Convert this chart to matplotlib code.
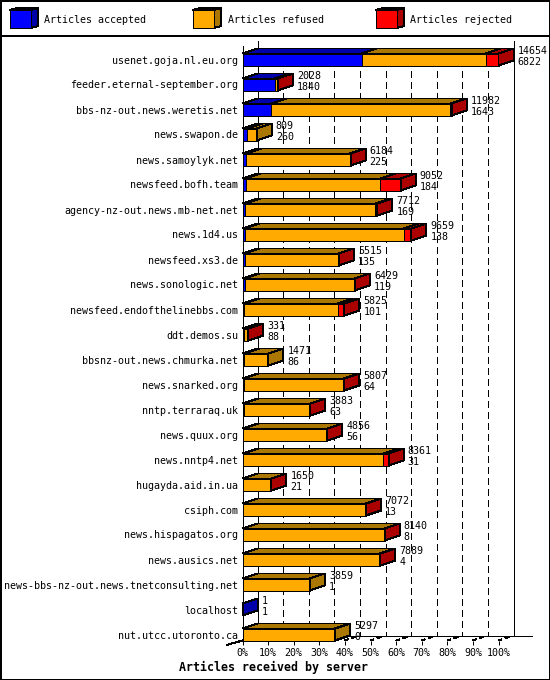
import matplotlib
matplotlib.use('Agg')
import matplotlib.pyplot as plt
from matplotlib.patches import Polygon, Rectangle

hosts = ['usenet.goja.nl.eu.org', 'feeder.eternal-september.org', 'bbs-nz-out.news.weretis.net',
         'news.swapon.de', 'news.samoylyk.net', 'newsfeed.bofh.team', 'agency-nz-out.news.mb-net.net',
         'news.1d4.us', 'newsfeed.xs3.de', 'news.sonologic.net', 'newsfeed.endofthelinebbs.com',
         'ddt.demos.su', 'bbsnz-out.news.chmurka.net', 'news.snarked.org', 'nntp.terraraq.uk',
         'news.quux.org', 'news.nntp4.net', 'hugayda.aid.in.ua', 'csiph.com', 'news.hispagatos.org',
         'news.ausics.net', 'news-bbs-nz-out.news.tnetconsulting.net', 'localhost', 'nut.utcc.utoronto.ca']
offered = [14654, 2028, 11982, 809, 6184, 9052, 7712, 9659, 5515, 6429, 5825, 331,
           1471, 5807, 3883, 4856, 8361, 1650, 7072, 8140, 7889, 3859, 1, 5297]
accepted = [6822, 1840, 1643, 260, 225, 184, 169, 138, 135, 119, 101, 88,
            86, 64, 63, 56, 31, 21, 13, 8, 4, 1, 1, 0]
# rejected is read off the bar widths, the chart prints no number for it
rejected = [722, 18, 90, 0, 40, 1165, 100, 420, 25, 20, 360, 50,
            0, 15, 12, 12, 290, 10, 40, 25, 15, 0, 0, 0]
legend_names = ['Articles accepted', 'Articles refused', 'Articles rejected']
colors = ['#0000FF', '#FFAA00', '#FF0000']
darks = ['#0000AA', '#AA7700', '#AA0000']
pct_ticks = [0, 10, 20, 30, 40, 50, 60, 70, 80, 90, 100]

plt.rcParams['lines.antialiased'] = False
plt.rcParams['patch.antialiased'] = False
plt.rcParams['font.family'] = 'DejaVu Sans Mono'
plt.rcParams['font.size'] = 7.2

W, H = 550, 680
LW = 0.72
fig = plt.figure(figsize=(W / 100, H / 100), dpi=100)

# background layer in pixels: frame and legend
bg = fig.add_axes([0, 0, 1, 1])
bg.set_xlim(0, W)
bg.set_ylim(H, 0)
bg.axis('off')
bg.add_patch(Rectangle((0.5, 0.5), W - 1, H - 1, fc='white', ec='black', lw=1.2))
bg.plot([0, W], [35.5, 35.5], color='black', lw=1.2)
for x0, name, c, d in zip([10, 193, 376], legend_names, colors, darks):
    bg.add_patch(Polygon([(x0, 10), (x0 + 7, 8), (x0 + 28, 8), (x0 + 21, 10)], fc=d, ec='black', lw=LW))
    bg.add_patch(Polygon([(x0 + 21, 10), (x0 + 28, 8), (x0 + 28, 26), (x0 + 21, 28)], fc=d, ec='black', lw=LW))
    bg.add_patch(Rectangle((x0, 10), 21, 18, fc=c, ec='black', lw=LW))
    bg.text(x0 + 34.5, 20, name, ha='left', va='center')

# main axes is the front plane of the 3d box
left, right, top, bottom = 242.5, 498.5, 45.5, 640.5
row0 = 59.5
ax = fig.add_axes([left / W, 1 - bottom / H, (right - left) / W, (bottom - top) / H])
ax.patch.set_alpha(0)
ax.set_xlim(0, 100)
ax.set_ylim((bottom - row0) / 25, (top - row0) / 25)
for s in ax.spines.values():
    s.set_visible(False)

dx = 15 / ((right - left) / 100)
dy = -5 / 25
y_low, y_top = ax.get_ylim()
y_floor = y_low + dy

# walls, floor and grid
ax.vlines([t + dx for t in pct_ticks[1:-1]], -0.24 + dy, y_floor, color='black', lw=LW,
          linestyles=(0, (6, 5)), zorder=1, clip_on=False)
ax.plot([0, 0], [y_top, y_low], color='black', lw=LW, zorder=1)
ax.plot([dx, dx], [y_top + dy, y_floor], color='black', lw=LW, zorder=1, clip_on=False)
ax.plot([100 + dx, 100 + dx], [y_top + dy, y_floor], color='black', lw=LW, zorder=1, clip_on=False)
ax.plot([dx, 113], [y_floor, y_floor], color='black', lw=LW, zorder=1, clip_on=False)
ax.plot([0, 100], [y_low, y_low], color='black', lw=LW, zorder=1)
ax.plot([-6.2, 0], [y_low + 0.18, y_low], color='black', lw=LW, zorder=1, clip_on=False)
for t in pct_ticks[1:]:
    ax.plot([t, t + dx], [y_low, y_floor], color='black', lw=LW, linestyle=(0, (4, 4, 5, 10)),
            zorder=1, clip_on=False)

# bars, top rows first so lower rows sit in front
h = 12 / 25
for i, host in enumerate(hosts):
    refused = offered[i] - accepted[i] - rejected[i]
    z = 2 + i
    start = 0
    last_dark = None
    for val, c, d in zip([accepted[i], refused, rejected[i]], colors, darks):
        if val <= 0:
            continue
        w = val / offered[0] * 100
        ytop = i - h / 2
        ax.add_patch(Polygon([(start, ytop), (start + dx, ytop + dy), (start + w + dx, ytop + dy), (start + w, ytop)],
                             fc=d, ec='black', lw=LW, zorder=z, clip_on=False))
        ax.barh(i, w, height=h, left=start, color=c, edgecolor='black', linewidth=LW, zorder=z, clip_on=False)
        start += w
        last_dark = d
    ax.add_patch(Polygon([(start, i - h / 2), (start + dx, i - h / 2 + dy), (start + dx, i + h / 2 + dy), (start, i + h / 2)],
                         fc=last_dark, ec='black', lw=LW, zorder=z, clip_on=False))
    ax.annotate(str(offered[i]), (start + dx, i), xytext=(3, 6.2), textcoords='offset points',
                ha='left', va='center', zorder=40, annotation_clip=False)
    ax.annotate(str(accepted[i]), (start + dx, i), xytext=(3, -2.0), textcoords='offset points',
                ha='left', va='center', zorder=40, annotation_clip=False)

ax.set_yticks(range(len(hosts)))
ax.set_yticklabels(hosts)
ax.tick_params(axis='y', length=0, pad=3)
ax.set_xticks(pct_ticks)
ax.set_xticklabels([f'{t}%' for t in pct_ticks])
ax.tick_params(axis='x', length=3.2, width=LW, pad=2.5)

fig.text(273.5 / W, 1 - 667 / H, 'Articles received by server', ha='center', va='center',
         fontweight='bold', fontsize=8.4)

fig.savefig('out.png', dpi=100)
